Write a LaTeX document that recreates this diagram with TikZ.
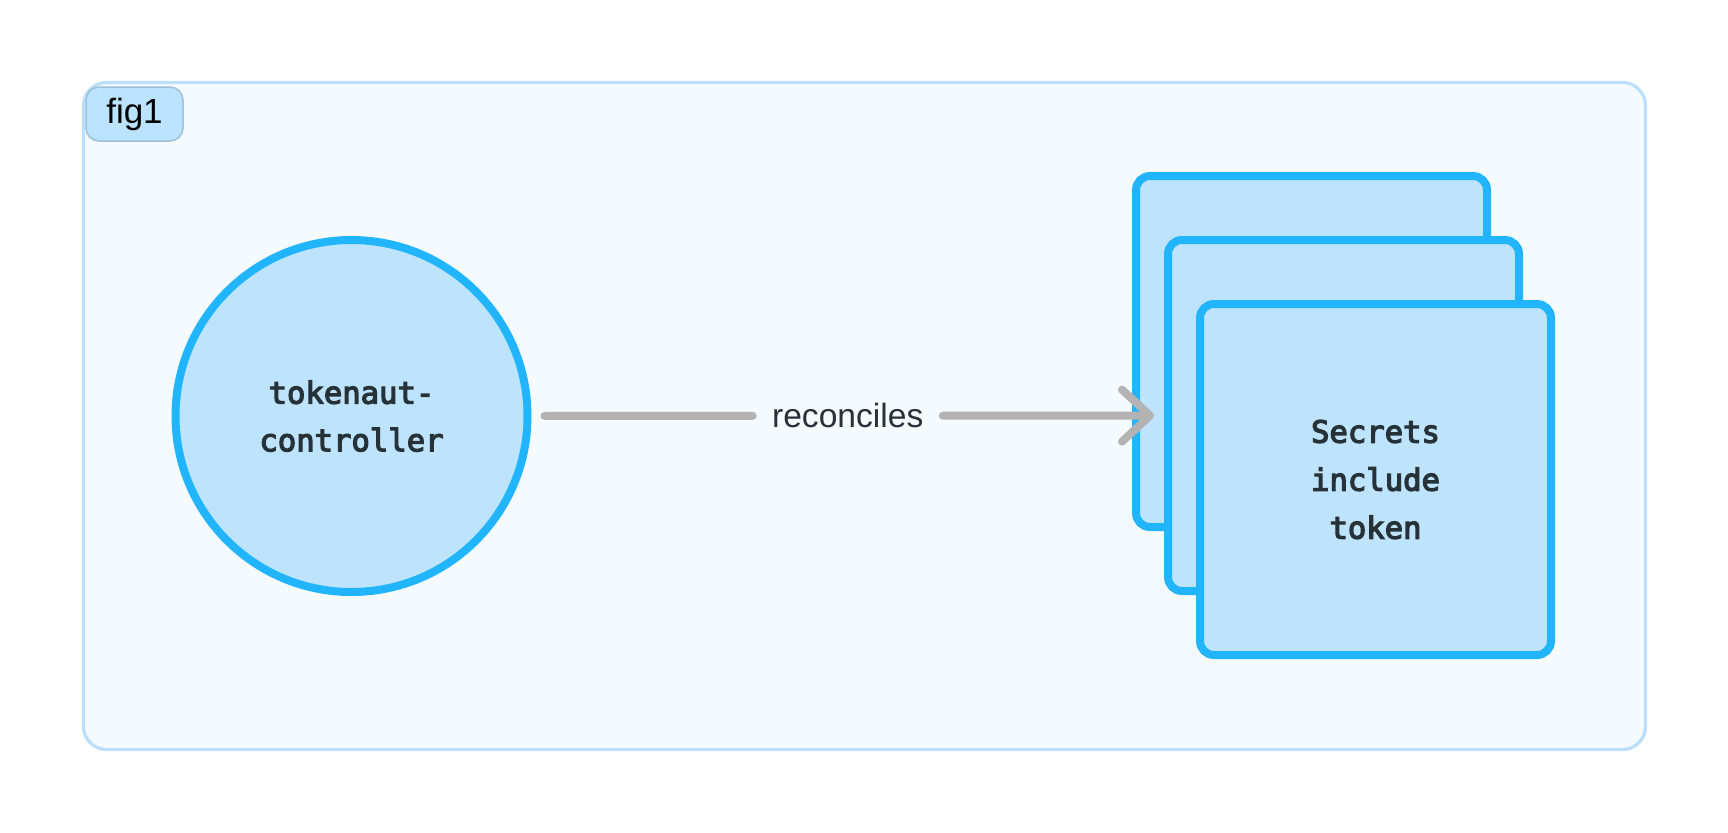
\documentclass[tikz,border=0pt]{standalone}
\usepackage{fontspec}
\setmainfont{Liberation Sans}
\newfontfamily\codefont[BoldFont={DejaVu Sans Mono},BoldFeatures={FakeBold=4}]{DejaVu Sans Mono}
\usetikzlibrary{arrows.meta}

\definecolor{framefill}{HTML}{F5FAFF}
\definecolor{frameline}{HTML}{BBDEFB}
\definecolor{tagfill}{HTML}{BBE3FD}
\definecolor{tagline}{HTML}{9EC0DB}
\definecolor{nodefill}{HTML}{BEE3FC}
\definecolor{nodeline}{HTML}{22B5FF}
\definecolor{flowgray}{HTML}{B3B3B3}
\definecolor{inkdark}{HTML}{263238}

\begin{document}
\begin{tikzpicture}[x=0.5pt,y=-0.5pt,
    actor/.style={circle, draw=nodeline, fill=nodefill, line width=4pt, minimum size=176pt,
        text=inkdark, align=center, font=\codefont\bfseries\fontsize{15.3}{23.8}\selectfont},
    doc/.style={rectangle, rounded corners=7pt, draw=nodeline, fill=nodefill, line width=4pt,
        minimum size=175.5pt, text=inkdark, align=center, font=\codefont\bfseries\fontsize{15.3}{24}\selectfont},
    flow/.style={draw=flowgray, line width=4pt, line cap=round},
    flowlabel/.style={inner sep=0pt, text=inkdark, font=\fontsize{16.8}{20}\selectfont}]

    % page and group frame
    \useasboundingbox (0,0) rectangle (1728,832);
    \draw[draw=frameline, fill=framefill, line width=1.6pt, rounded corners=11.5pt] (83.5,82.5) rectangle (1645.5,749.5);
    \node[draw=tagline, fill=tagfill, line width=0.75pt, rounded corners=6.5pt, minimum width=48.5pt, minimum height=27pt,
        inner sep=0pt, font=\fontsize{17.5}{20}\selectfont] (tag) at (134.5,114) {fig1};

    % controller
    \node[actor] (ctrl) at (351.5,416) {tokenaut-\\controller};

    % stack of secrets, back to front
    \node[doc] (sec1) at (1311.5,351.5) {};
    \node[doc] (sec2) at (1343.5,415.5) {};
    \node[doc] (sec3) at (1375.5,479.5) {Secrets\\include\\token};

    % reconcile arrow
    \path (ctrl) -- node[flowlabel] (rec) {reconciles} (sec2);
    \draw[flow, shorten <=6.5pt, shorten >=9.5pt] (ctrl) -- (rec);
    \draw[flow, shorten <=9.5pt, shorten >=5pt, -{Straight Barb[length=14pt, width=26pt, round]}] (rec) -- (sec2);

\end{tikzpicture}
\end{document}
